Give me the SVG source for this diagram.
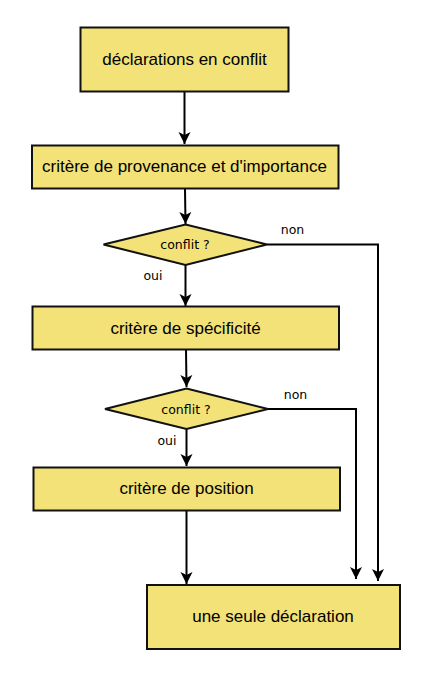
<svg xmlns="http://www.w3.org/2000/svg" width="431" height="678" viewBox="0 0 431 678">
<style>
.box{fill:#f2e277;stroke:#111;stroke-width:2}
.t{font-family:"Liberation Sans",Arial,sans-serif;font-size:17px;fill:#000;text-anchor:middle}
.s{font-family:"DejaVu Sans","Liberation Sans",sans-serif;font-size:12.5px;fill:#000;text-anchor:middle}
.c{fill:none;stroke:#000;stroke-width:2}
</style>
<defs>
<marker id="ah" markerWidth="14" markerHeight="14" viewBox="0 0 14 14" refX="12" refY="7" orient="auto" markerUnits="userSpaceOnUse">
<path d="M0,1 L12,7 L0,13 L3,7 Z" fill="#000"/>
</marker>
</defs>
<rect width="431" height="678" fill="#fff"/>
<g id="connectors">
<line class="c" x1="184.5" y1="92" x2="184.5" y2="144" marker-end="url(#ah)"/>
<line class="c" x1="185" y1="189" x2="185.5" y2="224" marker-end="url(#ah)"/>
<line class="c" x1="185.5" y1="265" x2="185.5" y2="306" marker-end="url(#ah)"/>
<line class="c" x1="186" y1="349" x2="186.5" y2="387" marker-end="url(#ah)"/>
<line class="c" x1="186.5" y1="429" x2="186.5" y2="466" marker-end="url(#ah)"/>
<line class="c" x1="186.5" y1="510" x2="186.5" y2="584" marker-end="url(#ah)"/>
<polyline class="c" points="267,244.5 378,244.5 378,581" marker-end="url(#ah)"/>
<polyline class="c" points="268,409 356,409 356,579" marker-end="url(#ah)"/>
<text class="s" x="292.5" y="234">non</text>
<text class="s" x="153" y="280">oui</text>
<text class="s" x="295.5" y="399">non</text>
<text class="s" x="167" y="445">oui</text>
</g>
<g id="n1"><rect class="box" x="80.5" y="27.5" width="208" height="64"/><text class="t" x="184.5" y="64.5">déclarations en conflit</text></g>
<g id="n2"><rect class="box" x="32" y="145.5" width="306.5" height="43"/><text class="t" x="184.5" y="172">critère de provenance et d'importance</text></g>
<g id="d1"><polygon class="box" points="185.5,224.5 267,244.5 185.5,265 103.5,244.5"/><text class="s" x="185" y="249">conflit ?</text></g>
<g id="n3"><rect class="box" x="32.5" y="306.5" width="306.5" height="43"/><text class="t" x="185.5" y="333.5">critère de spécificité</text></g>
<g id="d2"><polygon class="box" points="186.5,388.5 268,409 186.5,429 105,409"/><text class="s" x="186" y="413.5">conflit ?</text></g>
<g id="n4"><rect class="box" x="33.5" y="467.5" width="306.5" height="43"/><text class="t" x="186.5" y="494">critère de position</text></g>
<g id="n5"><rect class="box" x="147" y="585" width="253" height="64"/><text class="t" x="273" y="622">une seule déclaration</text></g>
</svg>
